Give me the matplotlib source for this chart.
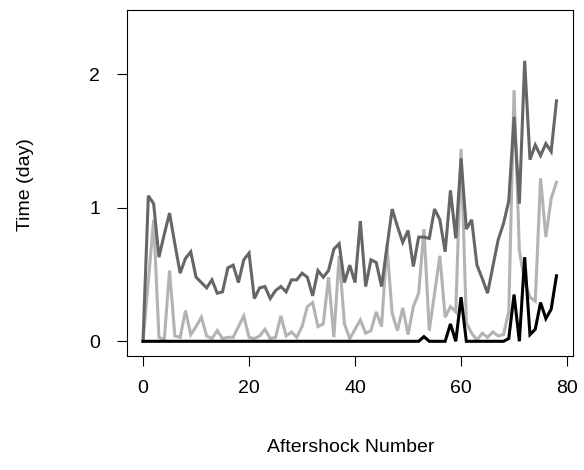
import matplotlib
matplotlib.use("Agg")
import matplotlib.pyplot as plt
import numpy as np

plt.rcParams['font.family'] = ['Liberation Sans', 'DejaVu Sans']

aftershock = list(range(0, 79))

series_dark = [0.00, 1.09, 1.03, 0.63, 0.80, 0.96, 0.73, 0.51, 0.62, 0.67,
               0.48, 0.44, 0.40, 0.46, 0.36, 0.37, 0.55, 0.57, 0.44, 0.61,
               0.66, 0.32, 0.40, 0.41, 0.32, 0.38, 0.41, 0.37, 0.46, 0.46,
               0.51, 0.48, 0.34, 0.53, 0.48, 0.53, 0.69, 0.73, 0.44, 0.57,
               0.44, 0.90, 0.41, 0.61, 0.59, 0.41, 0.70, 0.99, 0.86, 0.74,
               0.83, 0.56, 0.78, 0.78, 0.77, 0.99, 0.91, 0.67, 1.13, 0.77,
               1.37, 0.84, 0.91, 0.57, 0.47, 0.36, 0.56, 0.76, 0.88, 1.05,
               1.68, 1.03, 2.10, 1.36, 1.47, 1.39, 1.48, 1.42, 1.80]

series_light = [0.00, 0.45, 0.91, 0.03, 0.01, 0.53, 0.04, 0.03, 0.23, 0.05,
                0.11, 0.18, 0.04, 0.02, 0.08, 0.02, 0.03, 0.03, 0.11, 0.19,
                0.03, 0.02, 0.04, 0.09, 0.02, 0.03, 0.19, 0.04, 0.07, 0.03,
                0.11, 0.26, 0.29, 0.11, 0.13, 0.48, 0.03, 0.64, 0.13, 0.02,
                0.09, 0.16, 0.06, 0.08, 0.22, 0.11, 0.72, 0.21, 0.08, 0.25,
                0.05, 0.26, 0.36, 0.84, 0.08, 0.36, 0.64, 0.18, 0.26, 0.22,
                1.44, 0.14, 0.06, 0.01, 0.06, 0.03, 0.07, 0.04, 0.05, 0.22,
                1.88, 0.68, 0.45, 0.33, 0.30, 1.22, 0.78, 1.07, 1.19]

series_black = [0.0] * 53 + [0.035, 0.0, 0.0, 0.0, 0.0, 0.13, 0.0, 0.33,
                0.0, 0.0, 0.0, 0.0, 0.0, 0.0, 0.0, 0.0, 0.02, 0.35, 0.0,
                0.63, 0.05, 0.09, 0.29, 0.17, 0.24, 0.49]

x_ticks = [0, 20, 40, 60, 80]
y_ticks = [0, 1, 2]

fig = plt.figure(figsize=(5.84, 4.70), dpi=100)
ax = fig.add_axes([126.5 / 584, 1 - 356 / 470, 446.5 / 584, 346 / 470])

lw = 2.2
ax.plot(aftershock, series_light, color='#b3b3b3', lw=lw, solid_joinstyle='miter')
ax.plot(aftershock, series_dark, color='#666666', lw=lw, solid_joinstyle='miter')
ax.plot(aftershock, series_black, color='black', lw=lw, solid_joinstyle='miter')

n = aftershock[-1] - aftershock[0]
ax.set_xlim(aftershock[0] - 0.04 * n, aftershock[-1] + 0.04 * n)
ax.set_ylim(-0.11, 2.48)

ax.set_xticks(x_ticks)
ax.set_yticks(y_ticks)
ax.tick_params(axis='both', direction='out', length=7, width=0.8, labelsize=14,
               color='black', labelcolor='black')
ax.tick_params(axis='x', pad=10)
ax.tick_params(axis='y', pad=16)
for lab in ax.get_yticklabels():
    lab.set_horizontalalignment('center')
for s in ax.spines.values():
    s.set_linewidth(0.8)
    s.set_color('black')

ax.set_xlabel('Aftershock Number', fontsize=14, va='center')
ax.set_ylabel('Time (day)', fontsize=14, va='center')
ax.xaxis.set_label_coords((351 - 126.5) / 446.5, (356 - 447) / 346)
ax.yaxis.set_label_coords((25 - 126.5) / 446.5, (356 - 185) / 346)

fig.savefig('out.png', dpi=100)
